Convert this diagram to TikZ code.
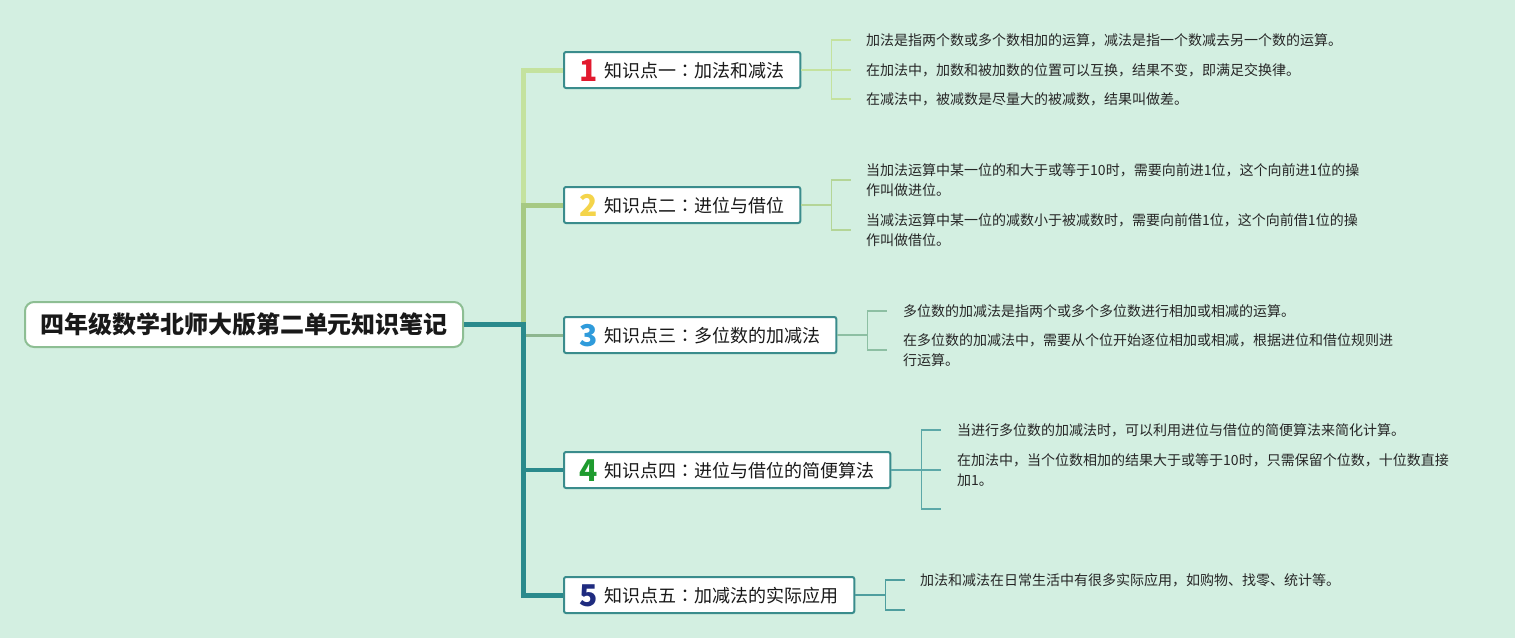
\documentclass[tikz,border=0pt]{standalone}
\usepackage{fontspec}
\setmainfont{Noto Sans CJK SC}
\newfontfamily\colonfont{Noto Sans CJK TC}
\usetikzlibrary{calc}
\definecolor{bg}{HTML}{D3EFE1}
\definecolor{rootline}{HTML}{8DBE93}
\definecolor{topicline}{HTML}{3A8C8C}
\definecolor{trunkA}{HTML}{C4E29E}
\definecolor{trunkB}{HTML}{A6C983}
\definecolor{trunkC}{HTML}{8DB68F}
\definecolor{trunkD}{HTML}{2A8A8C}
\definecolor{twigA}{HTML}{C4E29E}
\definecolor{twigB}{HTML}{B4D597}
\definecolor{twigC}{HTML}{8DBFA3}
\definecolor{twigD}{HTML}{5CA8A8}
\definecolor{twigE}{HTML}{4E9E9E}
\definecolor{numA}{HTML}{E2192E}
\definecolor{numB}{HTML}{F4D44A}
\definecolor{numC}{HTML}{2F9BDB}
\definecolor{numD}{HTML}{1E9B2E}
\definecolor{numE}{HTML}{1F2B7F}
\newcommand{\topicnum}[2]{\smash{\raisebox{-4pt}{\color{#1}\fontsize{30}{30}\selectfont\bfseries #2}}\hspace{7pt}}
\newcommand{\tcolon}{{\colonfont ：}}
\tikzset{
  rootbox/.style={draw=rootline, line width=2pt, fill=white, rounded corners=9pt,
    minimum width=438pt, minimum height=45pt, text=black!90,
    font=\fontsize{24}{24}\selectfont\bfseries},
  topic/.style={draw=topicline, line width=2pt, fill=white, rounded corners=2pt,
    minimum height=36pt, inner xsep=15.5pt, inner ysep=0pt, anchor=west, text=black!90,
    text height=16.8pt, text depth=1.2pt, font=\fontsize{18}{18}\selectfont},
  leaf/.style={anchor=west, inner sep=0pt, align=left, text=black!85,
    font=\fontsize{14}{20}\selectfont},
  twig/.style={line width=1.5pt}
}
\begin{document}
\begin{tikzpicture}[x=1pt,y=-1pt]
\useasboundingbox[fill=bg] (0,0) rectangle (1515,638);
\node[rootbox] (root) at (244,324.5) {四年级数学北师大版第二单元知识笔记};
\node[topic] (b1) at (563,70) {\topicnum{numA}{1}知识点一\tcolon 加法和减法};
\node[topic] (b2) at (563,205) {\topicnum{numB}{2}知识点二\tcolon 进位与借位};
\node[topic] (b3) at (563,335) {\topicnum{numC}{3}知识点三\tcolon 多位数的加减法};
\node[topic] (b4) at (563,470) {\topicnum{numD}{4}知识点四\tcolon 进位与借位的简便算法};
\node[topic] (b5) at (563,595) {\topicnum{numE}{5}知识点五\tcolon 加减法的实际应用};
\coordinate (hub) at (523,324.5);
\draw[line width=3pt, trunkC] (hub |- b3.west) -- (b3.west);
\draw[line width=5pt, trunkA] (hub |- b2.west) |- (b1.west);
\draw[line width=5pt, trunkB] (hub) |- (b2.west);
\draw[line width=5pt, trunkD] (root.east) -- (hub) |- (b5.west);
\draw[line width=4pt, trunkD] (hub |- b4.west) -- (b4.west);
\node[leaf] (l11) at (866,40) {加法是指两个数或多个数相加的运算，减法是指一个数减去另一个数的运算。};
\node[leaf] (l12) at (866,70) {在加法中，加数和被加数的位置可以互换，结果不变，即满足交换律。};
\node[leaf] (l13) at (866,99) {在减法中，被减数是尽量大的被减数，结果叫做差。};
\node[leaf] (l21) at (866,180) {当加法运算中某一位的和大于或等于10时，需要向前进1位，这个向前进1位的操\\作叫做进位。};
\node[leaf] (l22) at (866,230) {当减法运算中某一位的减数小于被减数时，需要向前借1位，这个向前借1位的操\\作叫做借位。};
\node[leaf] (l31) at (903,311) {多位数的加减法是指两个或多个多位数进行相加或相减的运算。};
\node[leaf] (l32) at (903,350) {在多位数的加减法中，需要从个位开始逐位相加或相减，根据进位和借位规则进\\行运算。};
\node[leaf] (l41) at (957,430) {当进行多位数的加减法时，可以利用进位与借位的简便算法来简化计算。};
\node[leaf] (l42) at (957,470) {在加法中，当个位数相加的结果大于或等于10时，只需保留个位数，十位数直接\\加1。};
\coordinate (e41) at (957,509);
\node[leaf] (l51) at (920,580) {加法和减法在日常生活中有很多实际应用，如购物、找零、统计等。};
\coordinate (e51) at (920,610);
\draw[twig, twigA] (b1.east) -- ++(30,0) coordinate (k1);
\draw[twig, twigA] (k1 |- l11.west) -- (k1 |- l13.west);
\foreach \l in {l11,l12,l13} \draw[twig, twigA] (k1 |- \l.west) -- ++(20,0);
\draw[twig, twigB] (b2.east) -- ++(30,0) coordinate (k2);
\draw[twig, twigB] (k2 |- l21.west) -- (k2 |- l22.west);
\foreach \l in {l21,l22} \draw[twig, twigB] (k2 |- \l.west) -- ++(20,0);
\draw[twig, twigC] (b3.east) -- ++(30,0) coordinate (k3);
\draw[twig, twigC] (k3 |- l31.west) -- (k3 |- l32.west);
\foreach \l in {l31,l32} \draw[twig, twigC] (k3 |- \l.west) -- ++(20,0);
\draw[twig, twigD] (b4.east) -- ++(30,0) coordinate (k4);
\draw[twig, twigD] (k4 |- l41.west) -- (k4 |- e41);
\foreach \l in {l41.west,l42.west,e41} \draw[twig, twigD] (k4 |- \l) -- ++(20,0);
\draw[twig, twigE] (b5.east) -- ++(30,0) coordinate (k5);
\draw[twig, twigE] (k5 |- l51.west) -- (k5 |- e51);
\foreach \l in {l51.west,e51} \draw[twig, twigE] (k5 |- \l) -- ++(20,0);
\end{tikzpicture}
\end{document}
